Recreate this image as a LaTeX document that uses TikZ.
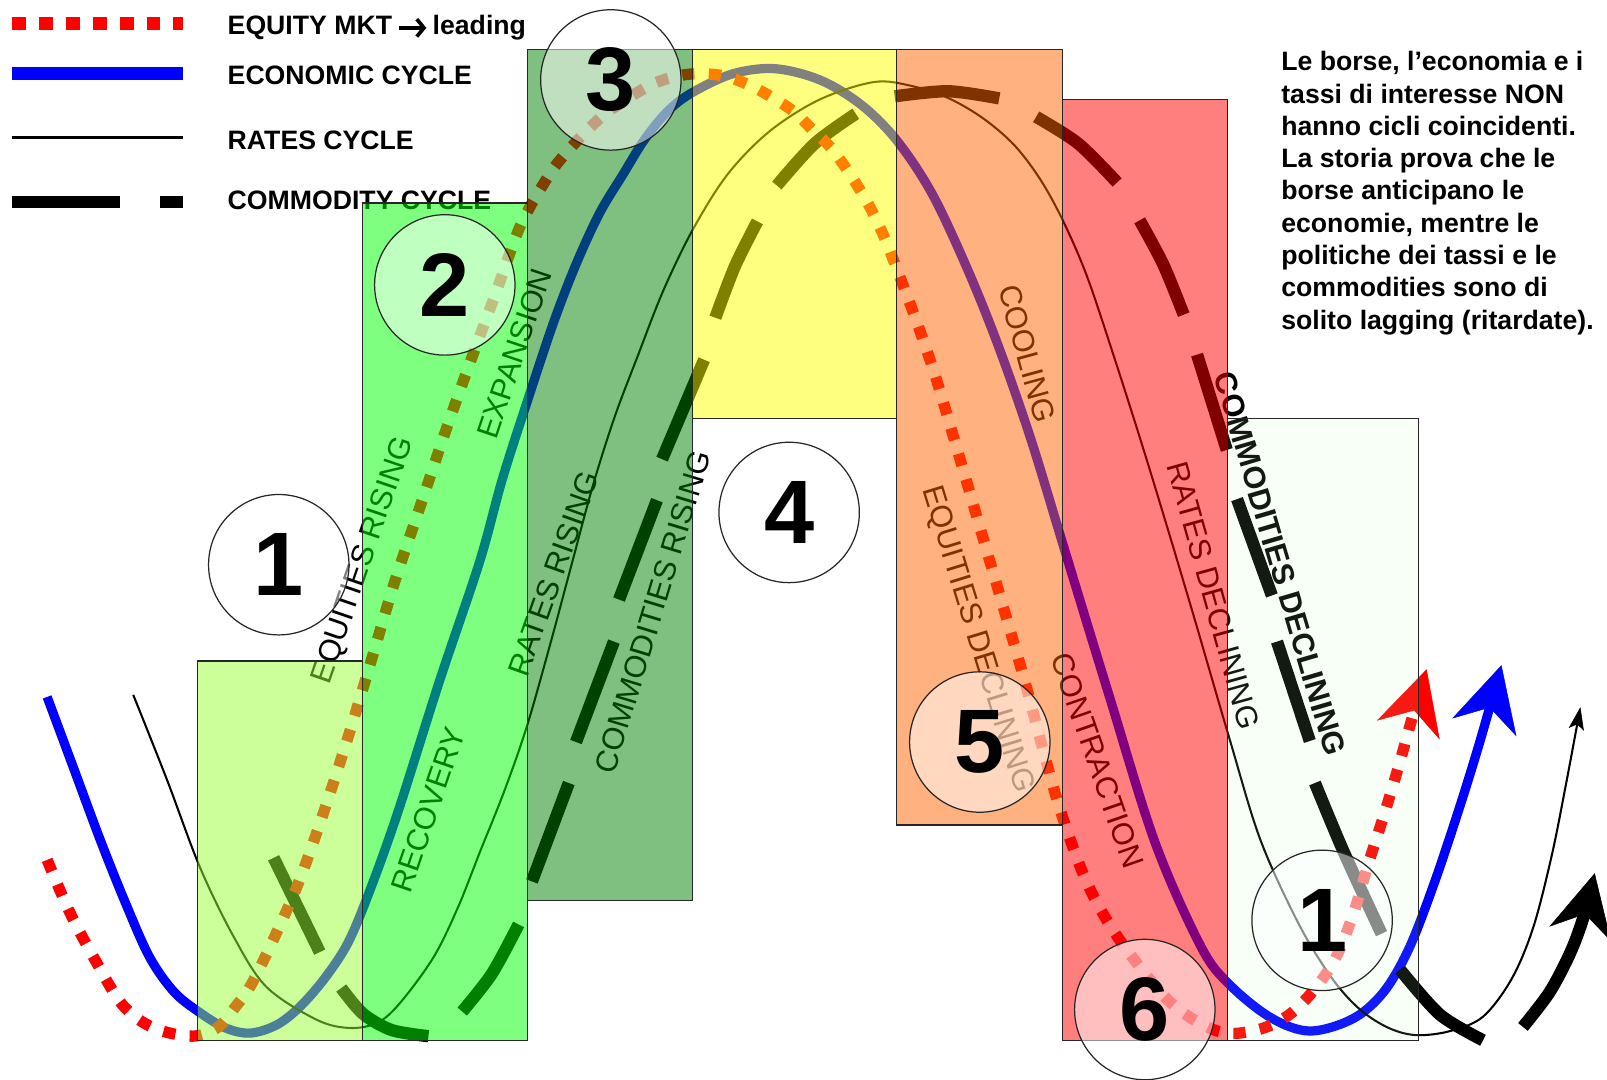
\documentclass[tikz,border=0pt]{standalone}
\usepackage{fontspec}
\setmainfont{Liberation Sans}
\usetikzlibrary{arrows.meta}
\definecolor{cbA}{RGB}{153,255,51}
\definecolor{cbB}{RGB}{0,255,0}
\definecolor{cbC}{RGB}{0,128,0}
\definecolor{cbD}{RGB}{255,255,0}
\definecolor{cbE}{RGB}{255,100,0}
\definecolor{cbF}{RGB}{255,0,0}
\definecolor{cbG}{RGB}{180,255,180}
\definecolor{ecoblue}{RGB}{0,0,255}
\begin{document}
\begin{tikzpicture}[x=1pt,y=-1pt,
 eqline/.style={draw=red,line width=11pt,dash pattern=on 12pt off 14pt},
 ecoline/.style={draw=ecoblue,line width=9pt},
 rateline/.style={draw=black,line width=2pt},
 comdash/.style={draw=black,line width=12pt},
 phasebox/.style={draw=black!85,line width=1.2pt,fill opacity=0.5},
 numcirc/.style={circle,draw=black!85,line width=1.2pt,fill=white,fill opacity=0.5,text opacity=1,minimum size=137pt,inner sep=0pt,font=\bfseries\fontsize{88}{90}\selectfont},
 lbl/.style={inner sep=0pt,font=\fontsize{30}{36}\selectfont},
 legtxt/.style={anchor=base west,inner sep=0pt,font=\bfseries\fontsize{26}{30}\selectfont},
 legarrow/.style={draw=black,line width=3.6pt,-{Straight Barb[length=7pt,width=17pt,line width=3.6pt]}},
]
\useasboundingbox (0,0) rectangle (1568,1053);

% ---------- curves ----------
% economic cycle (blue)
\draw[ecoline,-{Stealth[length=63pt,width=65pt,inset=20pt,line width=0.5pt]}] plot[smooth,tension=0.55] coordinates {
 (46,680) (72,750) (98,820) (122,880) (146,934) (170,968) (195,988) (220,1003) (244,1008) (270,1000)
 (293,982) (318,953) (341,917) (365,858) (390,787) (429,664) (468,548) (490,468) (515,390) (540,315)
 (562,258) (585,208) (608,170) (629,136) (652,108) (676,90) (715,72) (756,67) (800,78) (840,102)
 (875,137) (910,190) (945,265) (975,340) (1006,429) (1038,534) (1082,678) (1127,822) (1172,924)
 (1200,961) (1240,993) (1278,1006) (1320,994) (1350,968) (1375,925) (1400,860) (1425,785) (1445,720)
 (1465,649)};

% rates cycle (thin black)
\draw[rateline,-{Stealth[length=22pt,width=15pt,inset=5pt,line width=0.5pt]}] plot[smooth,tension=0.55] coordinates {
 (130,678) (163,761) (195,846) (228,914) (260,963) (309,995) (341,1003) (368,998) (390,979) (423,934)
 (447,885) (468,832) (492,772) (514,709) (537,628) (559,546) (579,472) (600,406) (622,348) (647,284)
 (676,224) (710,170) (751,128) (800,97) (853,80) (890,84) (926,96) (960,116) (990,142) (1015,175)
 (1037,215) (1060,268) (1085,342) (1119,449) (1160,585) (1200,722) (1230,820) (1268,903) (1300,955)
 (1327,985) (1355,1003) (1382,1010) (1415,1006) (1447,992) (1475,955) (1496,905) (1514,835) (1528,765)
 (1542,690)};

% commodity cycle (thick dashes)
\draw[comdash] plot[smooth] coordinates {(267,837) (312,929)};
\draw[comdash] plot[smooth] coordinates {(333,964) (354,989) (382,1005) (418,1011)};
\draw[comdash] plot[smooth] coordinates {(451,987) (480,950) (506,902)};
\draw[comdash] plot[smooth] coordinates {(519,860) (555,764)};
\draw[comdash] plot[smooth] coordinates {(562,724) (599,626)};
\draw[comdash] plot[smooth] coordinates {(604,585) (641,488)};
\draw[comdash] plot[smooth] coordinates {(646,448) (687,351)};
\draw[comdash] plot[smooth] coordinates {(698,310) (717,260) (739,216)};
\draw[comdash] plot[smooth] coordinates {(758,181) (795,140) (835,111)};
\draw[comdash] plot[smooth] coordinates {(873,94) (925,89) (975,96)};
\draw[comdash] plot[smooth] coordinates {(1011,114) (1052,140) (1090,178)};
\draw[comdash] plot[smooth] coordinates {(1112,215) (1135,258) (1155,307)};
\draw[comdash] plot[smooth] coordinates {(1168,346) (1197,439)};
\draw[comdash] plot[smooth] coordinates {(1207,487) (1241,581)};
\draw[comdash] plot[smooth] coordinates {(1246,626) (1278,723)};
\draw[comdash] plot[smooth] coordinates {(1283,764) (1311,831) (1348,911)};
\draw[comdash] plot[smooth] coordinates {(1366,946) (1405,990) (1447,1015)};
\draw[comdash,-{Stealth[length=61pt,width=62pt,inset=20pt,line width=0.5pt]}] plot[smooth] coordinates {(1486,1002) (1512,968) (1532,930) (1545,895) (1556,852)};

% equity market (red dotted)
\draw[eqline,-{Stealth[length=62pt,width=64pt,inset=20pt,line width=0.5pt]}] plot[smooth,tension=0.55] coordinates {
 (46,839) (68,890) (93,937) (120,981) (150,1003) (188,1011) (213,1002) (230,982) (245,961) (268,914)
 (291,862) (315,795) (340,718) (363,642) (385,568) (410,494) (435,420) (460,350) (483,288) (507,222)
 (530,180) (549,153) (587,114) (629,86) (654,76) (678,72) (706,74) (731,83) (755,96) (776,110)
 (793,127) (814,148) (842,190) (860,225) (876,265) (893,310) (912,365) (930,425) (963,538) (998,658)
 (1020,740) (1036,795) (1060,860) (1089,912) (1134,970) (1165,995) (1196,1008) (1230,1004) (1258,990)
 (1282,966) (1303,935) (1320,893) (1336,840) (1352,790) (1366,743) (1378,700) (1392,653)};

% ---------- phase labels ----------
\node[lbl,rotate=71.1] (tEqR) at (355,547) {EQUITIES RISING};
\node[lbl,rotate=71.2] (tRec) at (418,790) {RECOVERY};
\node[lbl,rotate=71.4] (tExp) at (502,345) {EXPANSION};
\node[lbl,rotate=70.3] (tRaR) at (540,560) {RATES RISING};
\node[lbl,rotate=73.1] (tCoR) at (637,597) {COMMODITIES RISING};
\node[lbl,rotate=-74.7] (tCool) at (1002,345) {COOLING};
\node[lbl,rotate=-72.9] (tEqD) at (953,624) {EQUITIES DECLINING};
\node[lbl,rotate=-70.8] (tCon) at (1071,742) {CONTRACTION};
\node[lbl,rotate=-74.4] (tRaD) at (1184,581) {RATES DECLINING};
\node[lbl,font=\bfseries\fontsize{30}{36}\selectfont,rotate=-73.6] (tCoD) at (1249,550) {COMMODITIES DECLINING};

% ---------- legend ----------
\draw[eqline,line width=12.5pt,dash pattern=on 13.5pt off 12.7pt] (12,23) -- (179,23);
\draw[ecoline,line width=12.5pt] (12,72) -- (179,72);
\draw[rateline,line width=2.7pt] (12,134) -- (179,134);
\draw[comdash,line width=12.5pt] (12,197) -- (117,197) (156,197) -- (179,197);
\node[legtxt] (legA) at (222,33.7) {EQUITY MKT};
\node[legtxt] (legA2) at (422,33.7) {leading};
\draw[legarrow] ([xshift=7pt]legA.east) -- ([xshift=-6pt]legA2.west |- legA.east);
\node[legtxt] (legB) at (222,82.3) {ECONOMIC CYCLE};
\node[legtxt] (legC) at (222,146.3) {RATES CYCLE};
\node[legtxt] (legD) at (222,204.3) {COMMODITY CYCLE};

% ---------- phase boxes (translucent) ----------
\draw[phasebox,fill=cbA] (193,645) rectangle (354,1015);
\draw[phasebox,fill=cbB] (354,198) rectangle (515,1015);
\draw[phasebox,fill=cbC] (515,48) rectangle (676,879);
\draw[phasebox,fill=cbD] (676,48) rectangle (875,408);
\draw[phasebox,fill=cbE] (875,48) rectangle (1037,805);
\draw[phasebox,fill=cbF] (1037,97) rectangle (1198,1015);
\draw[phasebox,fill=cbG,fill opacity=0.1] (1198,408) rectangle (1384,1015);

% ---------- numbered circles ----------
\node[numcirc] (c1) at (272,551) {1};
\node[numcirc] (c2) at (434,278) {2};
\node[numcirc] (c3) at (596,78) {3};
\node[numcirc] (c4) at (770,500) {4};
\node[numcirc] (c5) at (956,724) {5};
\node[numcirc] (c6) at (1117,985) {6};
\node[numcirc] (c7) at (1290,898) {1};

% ---------- note ----------
\node[anchor=north west,align=left,inner sep=0pt,font=\bfseries\fontsize{26}{31.5}\selectfont] (note) at (1250,50) {Le borse, l’economia e i\\tassi di interesse NON\\hanno cicli coincidenti.\\La storia prova che le\\borse anticipano le\\economie, mentre le\\politiche dei tassi e le\\commodities sono di\\solito lagging (ritardate).};
\end{tikzpicture}
\end{document}
